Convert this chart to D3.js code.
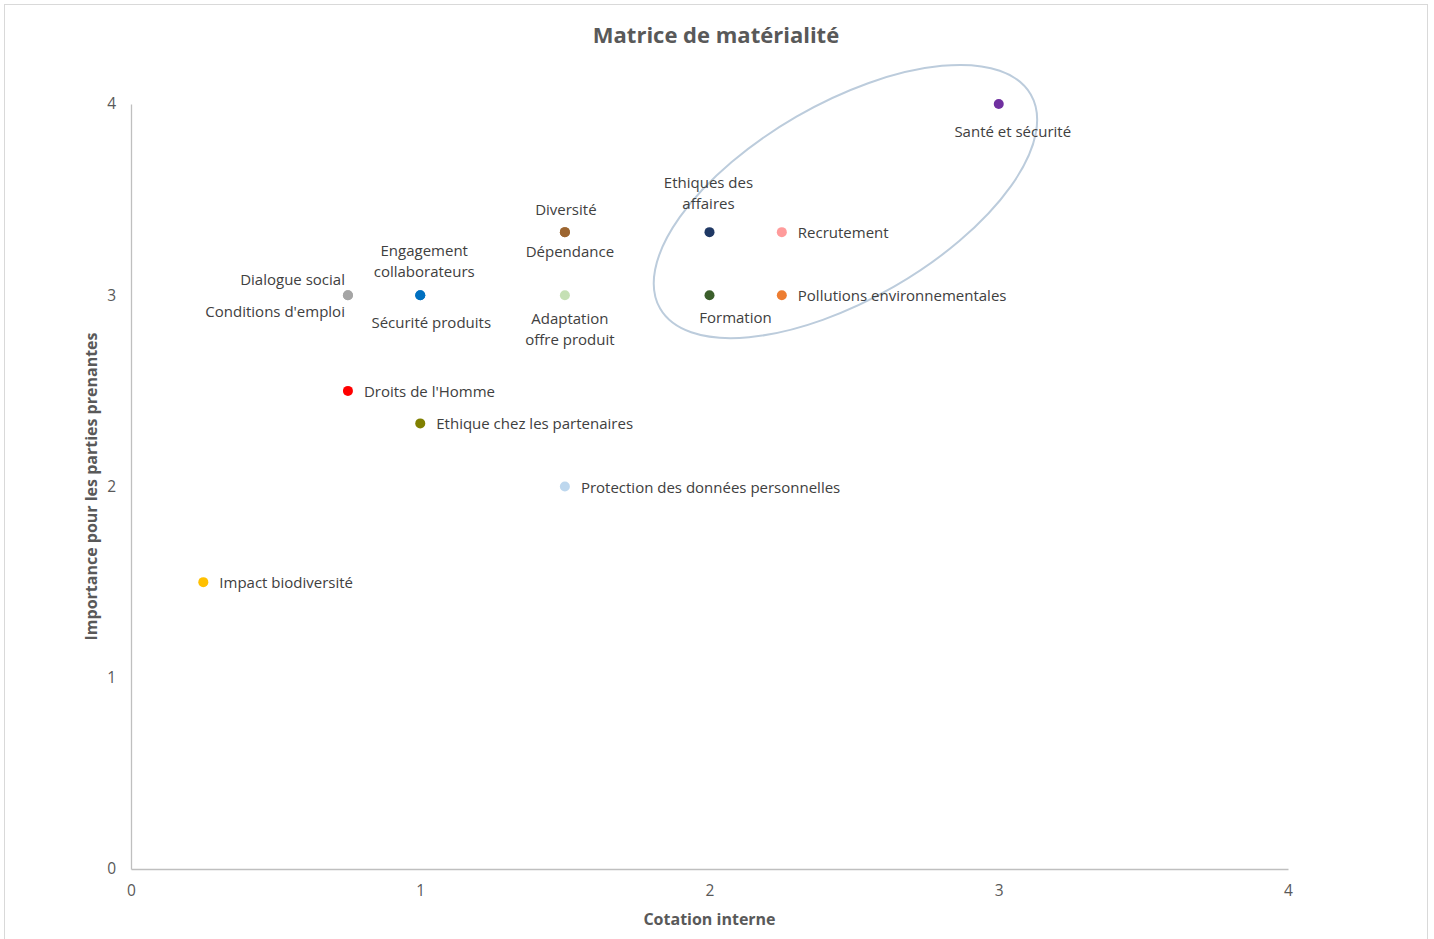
<!DOCTYPE html>
<html lang="fr">
<head>
<meta charset="utf-8">
<title>Matrice de matérialité</title>
<script src="https://cdn.jsdelivr.net/npm/d3@7/dist/d3.min.js"></script>
<style>
  html, body { margin: 0; padding: 0; background: #fff; }
  svg { display: block; font-family: "Open Sans", "DejaVu Sans", sans-serif; }
</style>
</head>
<body>
<svg id="chart" width="1434" height="939"></svg>
<script>
// Enjeux et leurs cotations
const enjeux = [
  "Santé et sécurité",
  "Ethiques des affaires",
  "Recrutement",
  "Pollutions environnementales",
  "Formation",
  "Dépendance",
  "Diversité",
  "Adaptation offre produit",
  "Engagement collaborateurs",
  "Sécurité produits",
  "Conditions d'emploi",
  "Dialogue social",
  "Droits de l'Homme",
  "Ethique chez les partenaires",
  "Protection des données personnelles",
  "Impact biodiversité"
];
const cotationInterne = [3, 2, 2.25, 2.25, 2, 1.5, 1.5, 1.5, 1, 1, 0.75, 0.75, 0.75, 1, 1.5, 0.25];
const importancePP   = [4, 3.33, 3.33, 3, 3, 3.33, 3.33, 3, 3, 3, 3, 3, 2.5, 2.33, 2, 1.5];
const couleurs = [
  "#7030A0", "#1F3864", "#FF9B9B", "#ED7D31", "#3B5E2B", "#9C6530", "#9C6530", "#C5E0B4",
  "#0070C0", "#0070C0", "#A5A5A5", "#A5A5A5", "#FF0000", "#808000", "#BDD7EE", "#FFC000"
];
const xTicks = [0, 1, 2, 3, 4];
const yTicks = [0, 1, 2, 3, 4];

// Zone prioritaire entourée (centre en unités du graphique)
const zonePrioritaire = { x: 2.47, y: 3.49 };

// Placement des étiquettes : côté + décalage, lignes séparées
const placement = {
  "Santé et sécurité":                   { anchor: "middle", dx: 14, dy: 27, lines: ["Santé et sécurité"] },
  "Ethiques des affaires":               { anchor: "middle", dx: -1, dy: -50, lines: ["Ethiques des", "affaires"] },
  "Recrutement":                         { anchor: "start", dx: 16, dy: 0, lines: ["Recrutement"] },
  "Pollutions environnementales":        { anchor: "start", dx: 16, dy: 0, lines: ["Pollutions environnementales"] },
  "Formation":                           { anchor: "middle", dx: 26, dy: 22, lines: ["Formation"] },
  "Dépendance":                          { anchor: "middle", dx: 5, dy: 19, lines: ["Dépendance"] },
  "Diversité":                           { anchor: "middle", dx: 1, dy: -23, lines: ["Diversité"] },
  "Adaptation offre produit":            { anchor: "middle", dx: 5, dy: 23, lines: ["Adaptation", "offre produit"] },
  "Engagement collaborateurs":           { anchor: "middle", dx: 4, dy: -45, lines: ["Engagement", "collaborateurs"] },
  "Sécurité produits":                   { anchor: "middle", dx: 11, dy: 27, lines: ["Sécurité produits"] },
  "Conditions d'emploi":                 { anchor: "end", dx: -3, dy: 16, lines: ["Conditions d'emploi"] },
  "Dialogue social":                     { anchor: "end", dx: -3, dy: -16, lines: ["Dialogue social"] },
  "Droits de l'Homme":                   { anchor: "start", dx: 16, dy: 0, lines: ["Droits de l'Homme"] },
  "Ethique chez les partenaires":        { anchor: "start", dx: 16, dy: 0, lines: ["Ethique chez les partenaires"] },
  "Protection des données personnelles": { anchor: "start", dx: 16, dy: 0, lines: ["Protection des données personnelles"] },
  "Impact biodiversité":                 { anchor: "start", dx: 16, dy: 0, lines: ["Impact biodiversité"] }
};

const W = 1434, H = 939;
const margin = { left: 131, right: 146, top: 104, bottom: 70 };
const svg = d3.select("#chart");

// Cadre
svg.append("rect")
  .attr("x", 4.5).attr("y", 4.5)
  .attr("width", 1423).attr("height", 940)
  .attr("fill", "#fff").attr("stroke", "#d9d9d9").attr("stroke-width", 1);

const x = d3.scaleLinear().domain([0, 4]).range([margin.left, W - margin.right]);
const y = d3.scaleLinear().domain([0, 4]).range([H - margin.bottom, margin.top]);

// Titre
svg.append("text")
  .attr("x", 716).attr("y", 43)
  .attr("text-anchor", "middle")
  .attr("font-size", 22).attr("font-weight", "bold")
  .attr("fill", "#595959")
  .text("Matrice de matérialité");

// Axes
const xAxis = svg.append("g")
  .attr("transform", `translate(0,${y(0)})`)
  .call(d3.axisBottom(x).tickValues(xTicks).tickSize(0).tickPadding(16).tickFormat(d3.format("d")));
const yAxis = svg.append("g")
  .attr("transform", `translate(${x(0)},0)`)
  .call(d3.axisLeft(y).tickValues(yTicks).tickSize(0).tickPadding(15).tickFormat(d3.format("d")));
[xAxis, yAxis].forEach(g => {
  g.select(".domain").attr("stroke", "#bfbfbf").attr("stroke-width", 1.3);
  g.selectAll("text").attr("font-size", 15.5).attr("fill", "#595959")
    .attr("font-family", "'Open Sans', sans-serif");
});

// Titres d'axes
svg.append("text")
  .attr("x", (x(0) + x(4)) / 2 - 0).attr("y", 925)
  .attr("text-anchor", "middle")
  .attr("font-size", 16).attr("font-weight", "bold").attr("fill", "#595959")
  .text("Cotation interne");
svg.append("text")
  .attr("transform", `translate(97,${(y(0) + y(4)) / 2}) rotate(-90)`)
  .attr("text-anchor", "middle")
  .attr("font-size", 16).attr("font-weight", "bold").attr("fill", "#595959")
  .text("Importance pour les parties prenantes");

// Ellipse de la zone prioritaire
svg.append("ellipse")
  .attr("transform", `translate(${x(zonePrioritaire.x)},${y(zonePrioritaire.y)}) rotate(-30)`)
  .attr("rx", 214).attr("ry", 98)
  .attr("fill", "none")
  .attr("stroke", "#BCCCDC").attr("stroke-width", 2);

// Points
const data = enjeux.map((nom, i) => ({
  nom, cx: cotationInterne[i], cy: importancePP[i], couleur: couleurs[i]
}));

svg.append("g").selectAll("circle")
  .data(data)
  .join("circle")
  .attr("cx", d => x(d.cx))
  .attr("cy", d => y(d.cy))
  .attr("r", 5)
  .attr("fill", d => d.couleur);

// Étiquettes
const labels = svg.append("g")
  .attr("font-size", 15).attr("fill", "#404040");
data.forEach(d => {
  const p = placement[d.nom];
  const t = labels.append("text")
    .attr("text-anchor", p.anchor)
    .attr("dominant-baseline", "central");
  p.lines.forEach((ln, k) => {
    t.append("tspan")
      .attr("x", x(d.cx) + p.dx)
      .attr("y", y(d.cy) + p.dy + k * 21)
      .text(ln);
  });
});
</script>
</body>
</html>
